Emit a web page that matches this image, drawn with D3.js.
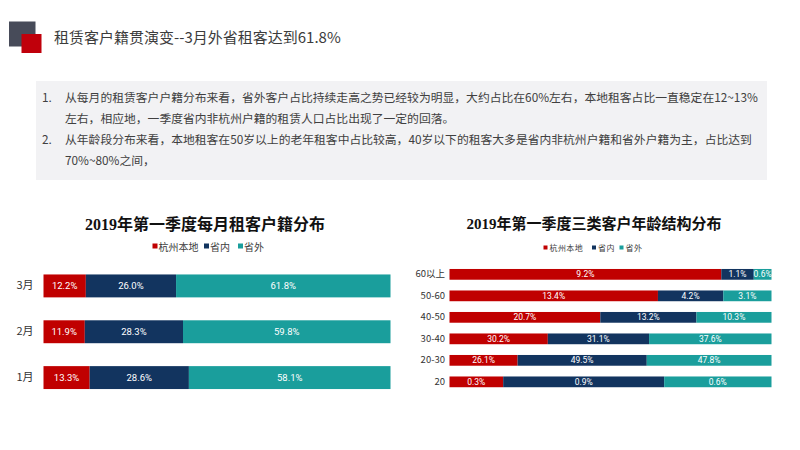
<!DOCTYPE html>
<html>
<head>
<meta charset="utf-8">
<script src="https://cdn.jsdelivr.net/npm/d3@7/dist/d3.min.js"></script>
<style>
  html, body { margin: 0; padding: 0; background: #fff; }
  svg { display: block; }
</style>
</head>
<body>
<svg id="chart" width="800" height="450"></svg>
<script>
// ---------- data ----------
const pageTitle = "租赁客户籍贯演变--3月外省租客达到61.8%";
const notes = [
  ["1.", "从每月的租赁客户户籍分布来看，省外客户占比持续走高之势已经较为明显，大约占比在60%左右，本地租客占比一直稳定在12~13%"],
  ["",   "左右，相应地，一季度省内非杭州户籍的租赁人口占比出现了一定的回落。"],
  ["2.", "从年龄段分布来看，本地租客在50岁以上的老年租客中占比较高，40岁以下的租客大多是省内非杭州户籍和省外户籍为主，占比达到"],
  ["",   "70%~80%之间，"]
];
const seriesNames = ["杭州本地", "省内", "省外"];
const seriesKeys = ["local", "inProv", "outProv"];
const colors = ["#c00000", "#12345f", "#1a9e9c"];

const leftTitle = "2019年第一季度每月租客户籍分布";
const months = ["3月", "2月", "1月"];
const monthLocal = [12.2, 11.9, 13.3];
const monthInProv = [26.0, 28.3, 28.6];
const monthOutProv = [61.8, 59.8, 58.1];

const rightTitle = "2019年第一季度三类客户年龄结构分布";
const ages = ["60以上", "50-60", "40-50", "30-40", "20-30", "20"];
const ageLocal = [9.2, 13.4, 20.7, 30.2, 26.1, 0.3];
const ageInProv = [1.1, 4.2, 13.2, 31.1, 49.5, 0.9];
const ageOutProv = [0.6, 3.1, 10.3, 37.6, 47.8, 0.6];

// ---------- page ----------
const svg = d3.select("#chart");
const cjk = "'Noto Sans CJK SC', 'Noto Sans', sans-serif";

// header squares
svg.append("rect").attr("x", 9).attr("y", 21.5).attr("width", 26.5).attr("height", 25).attr("fill", "#474b59");
svg.append("rect").attr("x", 21.5).attr("y", 34).attr("width", 20).attr("height", 19).attr("fill", "#c0000b");
svg.append("text").attr("x", 54).attr("y", 36).attr("dominant-baseline", "central")
  .attr("font-family", cjk).attr("font-size", 15).attr("fill", "#3c3c3c").text(pageTitle);

// notes box
svg.append("rect").attr("x", 36).attr("y", 81).attr("width", 731).attr("height", 99).attr("fill", "#f2f2f4");
const noteY = [96.5, 117, 138.5, 159];
notes.forEach((n, i) => {
  if (n[0]) svg.append("text").attr("x", 42).attr("y", noteY[i]).attr("dominant-baseline", "central")
    .attr("font-family", cjk).attr("font-size", 11.8).attr("fill", "#404040").text(n[0]);
  svg.append("text").attr("x", 65).attr("y", noteY[i]).attr("dominant-baseline", "central")
    .attr("font-family", cjk).attr("font-size", 11.8).attr("fill", "#404040").text(n[1]);
});

// ---------- generic stacked 100% bar chart ----------
function drawChart(opt) {
  const rows = opt.cats.map((c, i) => ({
    cat: c, local: opt.vals[0][i], inProv: opt.vals[1][i], outProv: opt.vals[2][i]
  }));
  const stack = d3.stack().keys(seriesKeys).offset(d3.stackOffsetExpand);
  const layers = stack(rows);

  const x = d3.scaleLinear().domain([0, 1]).range(opt.xRange);
  const y = d3.scaleBand().domain(opt.cats).range(opt.yRange).paddingInner(0.5).paddingOuter(0.25);

  const g = svg.append("g");

  // title
  g.append("text").attr("x", opt.titleX).attr("y", opt.titleY).attr("text-anchor", "middle")
    .attr("dominant-baseline", "central")
    .attr("font-family", "'Liberation Serif', 'Noto Sans CJK SC', serif")
    .attr("font-weight", "bold").attr("font-size", opt.titleSize).attr("fill", "#111")
    .text(opt.title);

  // legend
  seriesNames.forEach((name, i) => {
    g.append("rect").attr("x", opt.legSq[i]).attr("y", opt.legY - opt.sq / 2)
      .attr("width", opt.sq).attr("height", opt.sq).attr("fill", colors[i]);
    g.append("text").attr("x", opt.legTx[i]).attr("y", opt.legY).attr("dominant-baseline", "central")
      .attr("font-family", cjk).attr("font-size", opt.legSize).attr("letter-spacing", opt.legSpacing)
      .attr("fill", "#404040").text(name);
  });

  // bars
  layers.forEach((layer, li) => {
    g.append("g").selectAll("rect").data(layer).join("rect")
      .attr("x", d => x(d[0])).attr("y", d => y(d.data.cat))
      .attr("width", d => x(d[1]) - x(d[0])).attr("height", y.bandwidth())
      .attr("fill", colors[li]);
    g.append("g").selectAll("text").data(layer).join("text")
      .attr("x", d => (x(d[0]) + x(d[1])) / 2).attr("y", d => y(d.data.cat) + y.bandwidth() / 2)
      .attr("text-anchor", "middle").attr("dominant-baseline", "central")
      .attr("font-family", "Roboto, 'Liberation Sans', sans-serif").attr("font-size", opt.labSize)
      .attr("fill", "#fff")
      .text(d => d.data[seriesKeys[li]].toFixed(1) + "%");
  });

  // y axis labels
  const axis = d3.axisLeft(y).tickSize(0).tickPadding(opt.tickPad);
  const ag = g.append("g").attr("transform", `translate(${opt.xRange[0]},0)`).call(axis);
  ag.select(".domain").remove();
  ag.selectAll("text").attr("font-family", cjk).attr("font-size", opt.catSize).attr("fill", "#333");
}

drawChart({
  title: leftTitle, titleX: 205, titleY: 224, titleSize: 16,
  cats: months, vals: [monthLocal, monthInProv, monthOutProv],
  xRange: [43.5, 390.5], yRange: [263, 400.5],
  legY: 246, legSq: [152.5, 204, 238], legTx: [158.5, 210, 244], sq: 5, legSize: 10, legSpacing: 0,
  labSize: 9.5, catSize: 11, tickPad: 10
});

drawChart({
  title: rightTitle, titleX: 594, titleY: 224, titleSize: 15,
  cats: ages, vals: [ageLocal, ageInProv, ageOutProv],
  xRange: [449.5, 771.5], yRange: [263.6, 392.6],
  legY: 247.5, legSq: [543.5, 592, 619.5], legTx: [549.5, 598, 625.5], sq: 4, legSize: 8, legSpacing: 0.4,
  labSize: 8.5, catSize: 9.5, tickPad: 4.5
});
</script>
</body>
</html>
